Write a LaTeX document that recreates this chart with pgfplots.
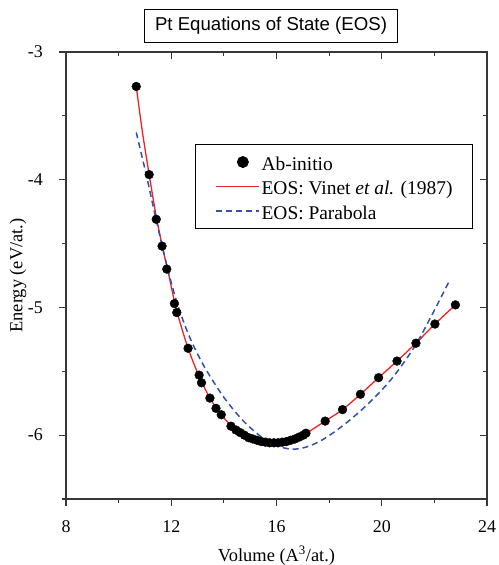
\documentclass[border=0pt]{standalone}
\usepackage{pgfplots}
\pgfplotsset{compat=1.18}
\usepackage{fontspec}
\setmainfont{Liberation Serif}
\newfontfamily\titlefont{Liberation Sans}
\definecolor{eosred}{RGB}{240,35,35}
\definecolor{eosblue}{RGB}{50,80,175}
\definecolor{axgray}{RGB}{55,55,55}

\pgfplotsset{
  redleg/.style={legend image code/.code={\draw[eosred, line width=1.3bp] (0bp,0bp) -- (43bp,0bp);}},
  blueleg/.style={legend image code/.code={\draw[eosblue, line width=1.5bp, dash pattern=on 6bp off 4bp] (0bp,0bp) -- (43bp,0bp);}},
  dotleg/.style={legend image code/.code={\path (0bp,0bp) (43bp,0bp); \fill[black] (27bp,0bp) circle (5.5bp);}},
}

\pgfplotstableread{
V E
10.67 -3.27
11.16 -3.96
11.43 -4.31
11.65 -4.52
11.83 -4.70
12.12 -4.97
12.21 -5.04
12.64 -5.32
13.06 -5.53
13.15 -5.59
13.47 -5.71
13.70 -5.79
13.90 -5.84
14.27 -5.93
14.46 -5.96
14.62 -5.98
14.78 -6.00
14.94 -6.02
15.10 -6.03
15.26 -6.04
15.42 -6.05
15.58 -6.055
15.74 -6.06
15.90 -6.06
16.06 -6.06
16.22 -6.055
16.38 -6.05
16.54 -6.04
16.70 -6.03
16.86 -6.015
17.02 -6.00
17.12 -5.985
17.85 -5.89
18.51 -5.80
19.19 -5.68
19.88 -5.55
20.58 -5.42
21.30 -5.28
22.02 -5.13
22.80 -4.98
}\abinitio

\pgfplotstableread{
V E
10.67 -3.27
10.90 -3.62
11.16 -3.96
11.43 -4.29
11.65 -4.51
11.90 -4.74
12.20 -5.02
12.64 -5.32
13.06 -5.54
13.47 -5.71
13.90 -5.84
14.40 -5.95
14.90 -6.015
15.40 -6.05
15.90 -6.06
16.40 -6.05
16.90 -6.02
17.40 -5.95
17.85 -5.89
18.51 -5.80
19.19 -5.68
19.88 -5.55
20.58 -5.42
21.30 -5.28
22.02 -5.13
22.80 -4.98
}\vinet

\pgfplotstableread{
V E
10.67 -3.63
11.06 -3.97
11.39 -4.28
11.83 -4.67
12.17 -4.93
12.50 -5.13
12.80 -5.28
13.19 -5.44
13.60 -5.58
13.95 -5.69
14.40 -5.81
14.84 -5.91
15.40 -6.01
15.98 -6.08
16.55 -6.11
17.00 -6.10
17.37 -6.075
17.80 -6.03
18.30 -5.96
18.80 -5.88
19.30 -5.79
19.80 -5.69
20.25 -5.59
20.67 -5.48
21.30 -5.29
21.93 -5.05
22.60 -4.78
}\parabola

\begin{document}
\begin{tikzpicture}
\begin{axis}[
  name=main,
  scale only axis, width=421bp, height=447bp,
  xmin=8, xmax=24, ymin=-6.5, ymax=-3,
  xtick={8,12,16,20,24}, xticklabels={8,12,16,20,24},
  minor xtick={10,14,18,22},
  ytick={-6,-5,-4,-3}, yticklabels={-6,-5,-4,-3},
  minor ytick={-6.5,-5.5,-4.5,-3.5},
  xtick pos=left, ytick pos=left, tick align=outside,
  major tick length=7bp, minor tick length=4bp,
  axis line style={line width=1.1bp, draw=axgray},
  tick style={line width=1.1bp, draw=axgray},
  ticklabel style={font=\fontsize{18}{20}\selectfont},
  xticklabel style={anchor=north, inner sep=0bp},
  xticklabel shift=14bp,
  yticklabel style={anchor=east, inner sep=0bp},
  yticklabel shift=16bp,
  xlabel={Volume (A\textsuperscript{3}/at.)},
  ylabel={Energy (eV/at.)},
  label style={font=\fontsize{18.5}{22}\selectfont, inner sep=0bp},
  xlabel style={at={(axis description cs:0.5,0)}, anchor=base, yshift=-62bp},
  ylabel style={at={(axis description cs:0,0.5)}, anchor=center, yshift=48bp},
  legend style={at={(axis description cs:0.9667,0.794)}, anchor=north east,
    draw=black, line width=0.9bp, fill=white,
    font=\fontsize{19.5}{22}\selectfont,
    inner xsep=20bp, inner ysep=7.5bp, row sep=4.5bp,
    nodes={inner sep=0bp, text height=18bp, text depth=2bp},
    /tikz/every odd column/.style={column sep=2bp}},
  legend cell align=left,
]
\addplot[only marks, mark=*, mark size=4.4bp, black, dotleg]
  table[x=V,y=E]{\abinitio};
\addlegendentry{Ab-initio}
\addplot[eosred, line width=1.3bp, smooth, redleg]
  table[x=V,y=E]{\vinet};
\addlegendentry{EOS: Vinet \textit{et al.} (1987)}
\addplot[eosblue, line width=1.5bp, smooth, dash pattern=on 6bp off 4bp, blueleg]
  table[x=V,y=E]{\parabola};
\addlegendentry{EOS: Parabola}
\end{axis}
\begin{axis}[
  scale only axis, width=421bp, height=447bp,
  xmin=8, xmax=24, ymin=-6.5, ymax=-3,
  xtick={8,12,16,20,24}, minor xtick={10,14,18,22},
  ytick={-6,-5,-4,-3}, minor ytick={-6.5,-5.5,-4.5,-3.5},
  xticklabels={}, yticklabels={},
  xtick pos=right, ytick pos=right, tick align=inside,
  major tick length=7bp, minor tick length=4bp,
  axis line style={line width=1.1bp, draw=axgray},
  tick style={line width=1.1bp, draw=axgray},
]
\end{axis}
\node[draw=black, line width=0.9bp, inner xsep=10.5bp, minimum height=33bp,
  anchor=south, font=\titlefont\fontsize{18.7}{22}\selectfont]
  at ([xshift=205bp,yshift=9bp]main.north west) {Pt Equations of State (EOS)};
\path ([xshift=-66bp,yshift=-66bp]main.south west) rectangle ([xshift=12bp,yshift=52bp]main.north east);
\end{tikzpicture}
\end{document}
